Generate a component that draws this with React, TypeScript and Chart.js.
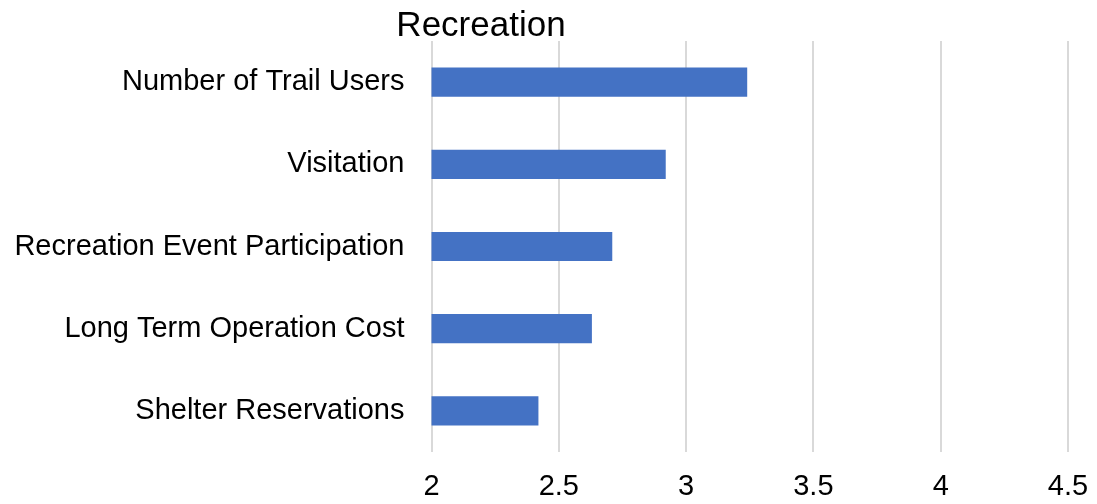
import React, { useEffect, useRef } from "react";
import { Chart, registerables } from "chart.js";

Chart.register(...registerables);

const categories = [
  "Number of Trail Users",
  "Visitation",
  "Recreation Event Participation",
  "Long Term Operation Cost",
  "Shelter Reservations",
];
const values = [3.24, 2.92, 2.71, 2.63, 2.42];
const titleText = "Recreation";
const xMin = 2;
const xMax = 4.5;
const xStep = 0.5;

const FONT = "'Liberation Sans', Arial, Helvetica, sans-serif";

const titlePlugin = {
  id: "offsetTitle",
  afterDraw(chart: any) {
    const ctx = chart.ctx;
    ctx.save();
    ctx.font = `35px ${FONT}`;
    ctx.fillStyle = "#000000";
    ctx.textAlign = "center";
    ctx.textBaseline = "alphabetic";
    ctx.fillText(titleText, 481, 36);
    ctx.restore();
  },
};

export default function App() {
  const ref = useRef<HTMLCanvasElement | null>(null);
  useEffect(() => {
    document.body.style.margin = "0";
    const canvas = ref.current!;
    const chart = new Chart(canvas, {
      type: "bar",
      data: {
        labels: categories,
        datasets: [
          {
            data: values,
            backgroundColor: "#4472C4",
            borderWidth: 0,
            barPercentage: 0.355,
            categoryPercentage: 1,
          },
        ],
      },
      options: {
        indexAxis: "y",
        responsive: false,
        animation: false,
        layout: { padding: { top: 41, right: 29, left: 0, bottom: 0 } },
        plugins: {
          legend: { display: false },
          title: { display: false },
          tooltip: { enabled: false },
        },
        scales: {
          x: {
            min: xMin,
            max: xMax,
            ticks: {
              stepSize: xStep,
              color: "#000000",
              padding: 18,
              font: { size: 29, family: FONT },
              callback: (v: any) => String(Number(v)),
            },
            grid: { color: "#d9d9d9", lineWidth: 2, drawTicks: false },
            border: { display: false },
            afterFit(scale: any) {
              scale.height = 52;
              scale.paddingLeft = 0;
              scale.paddingRight = 0;
            },
          },
          y: {
            ticks: {
              color: "#000000",
              padding: 19,
              font: { size: 29, family: FONT },
            },
            grid: { display: false },
            border: { display: false },
            afterFit(scale: any) {
              scale.width = 431.5;
              scale.paddingTop = 0;
              scale.paddingBottom = 0;
            },
          },
        },
      },
      plugins: [titlePlugin],
    });
    return () => chart.destroy();
  }, []);
  return (
    <div style={{ width: 1097, height: 504 }}>
      <canvas ref={ref} width={1097} height={504} />
    </div>
  );
}
